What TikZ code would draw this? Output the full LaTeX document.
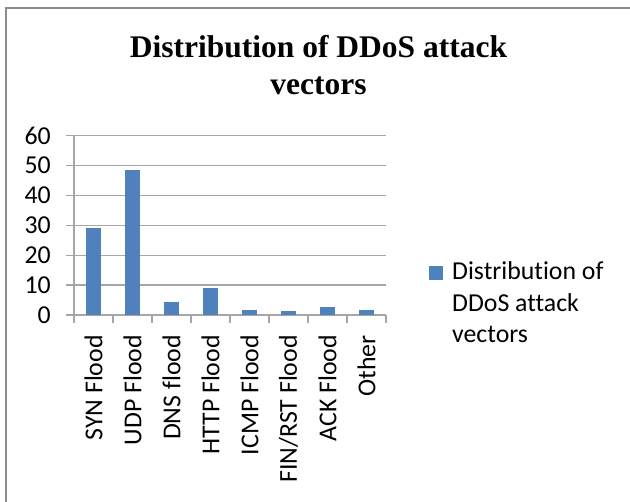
\documentclass[tikz,border=0pt]{standalone}
\usepackage{fontspec}
\setmainfont{Carlito}[Ligatures=NoCommon]
\newfontfamily\titlefont{Liberation Serif}
\usepackage{xcolor}
\usepackage{tikz}
\definecolor{barblue}{HTML}{4F81BD}
\definecolor{gridgray}{HTML}{A6A6A6}
\definecolor{framegray}{HTML}{8C8C8C}

\begin{document}
\begin{tikzpicture}[x=1pt, y=-1pt,
    lbl/.style={font=\fontsize{25.8}{31.5}\selectfont, inner sep=0pt},
    gridline/.style={gridgray, line width=1.3pt}]
  \useasboundingbox (0,0) rectangle (630,502);
  % ---- chart frame ----
  \begin{scope}
    \clip (0,0) rectangle (630,502);
    \draw[framegray, line width=2pt] (6,520) -- (6,8) -- (650,8);
  \end{scope}
  % ---- title (anchored on the baseline of its last line) ----
  \node[anchor=base, align=center, inner sep=0pt,
        font=\titlefont\bfseries\fontsize{31.5}{37}\selectfont] (title)
        at (318.5,95) {Distribution of DDoS attack\\vectors};
  % ---- plot area: one unit per category, y in percent ----
  \begin{scope}[shift={(74,315)}, x=39pt, y=2.99pt]
    \foreach \v in {10,20,...,60}
      \draw[gridline] (0,\v) -- (8,\v);
    \foreach \v in {0,10,...,60} {
      \draw[gridline] (0,\v) -- ++(-8pt,0pt);
      \node[lbl, anchor=east] (ytick\v) at ([xshift=-23pt]0,\v) {\v};
    }
    \draw[gridline] (0,0) -- (0,60);
    \draw[gridline] (0,0) -- (8,0);
    \foreach \i in {0,...,8}
      \draw[gridline] (\i,0) -- ++(0pt,-8pt);
    \foreach \v/\name [count=\i] in {29.2/SYN Flood, 48.5/UDP Flood,
        4.3/DNS flood, 8.9/HTTP Flood, 1.7/ICMP Flood,
        1.2/FIN\slash RST Flood, 2.6/ACK Flood, 1.7/Other} {
      \fill[barblue] (\i-0.7,0) rectangle (\i-0.3,\v);
      \node[lbl, rotate=90, anchor=east] (cat\i) at ([yshift=-20pt]\i-0.5,0) {\name};
    }
  \end{scope}
  % ---- legend ----
  \fill[barblue] (429,266) rectangle (443,280);
  \node[lbl, anchor=base west, align=left] (legend) at (452,343)
    {Distribution of\\DDoS attack\\vectors};
\end{tikzpicture}
\end{document}
